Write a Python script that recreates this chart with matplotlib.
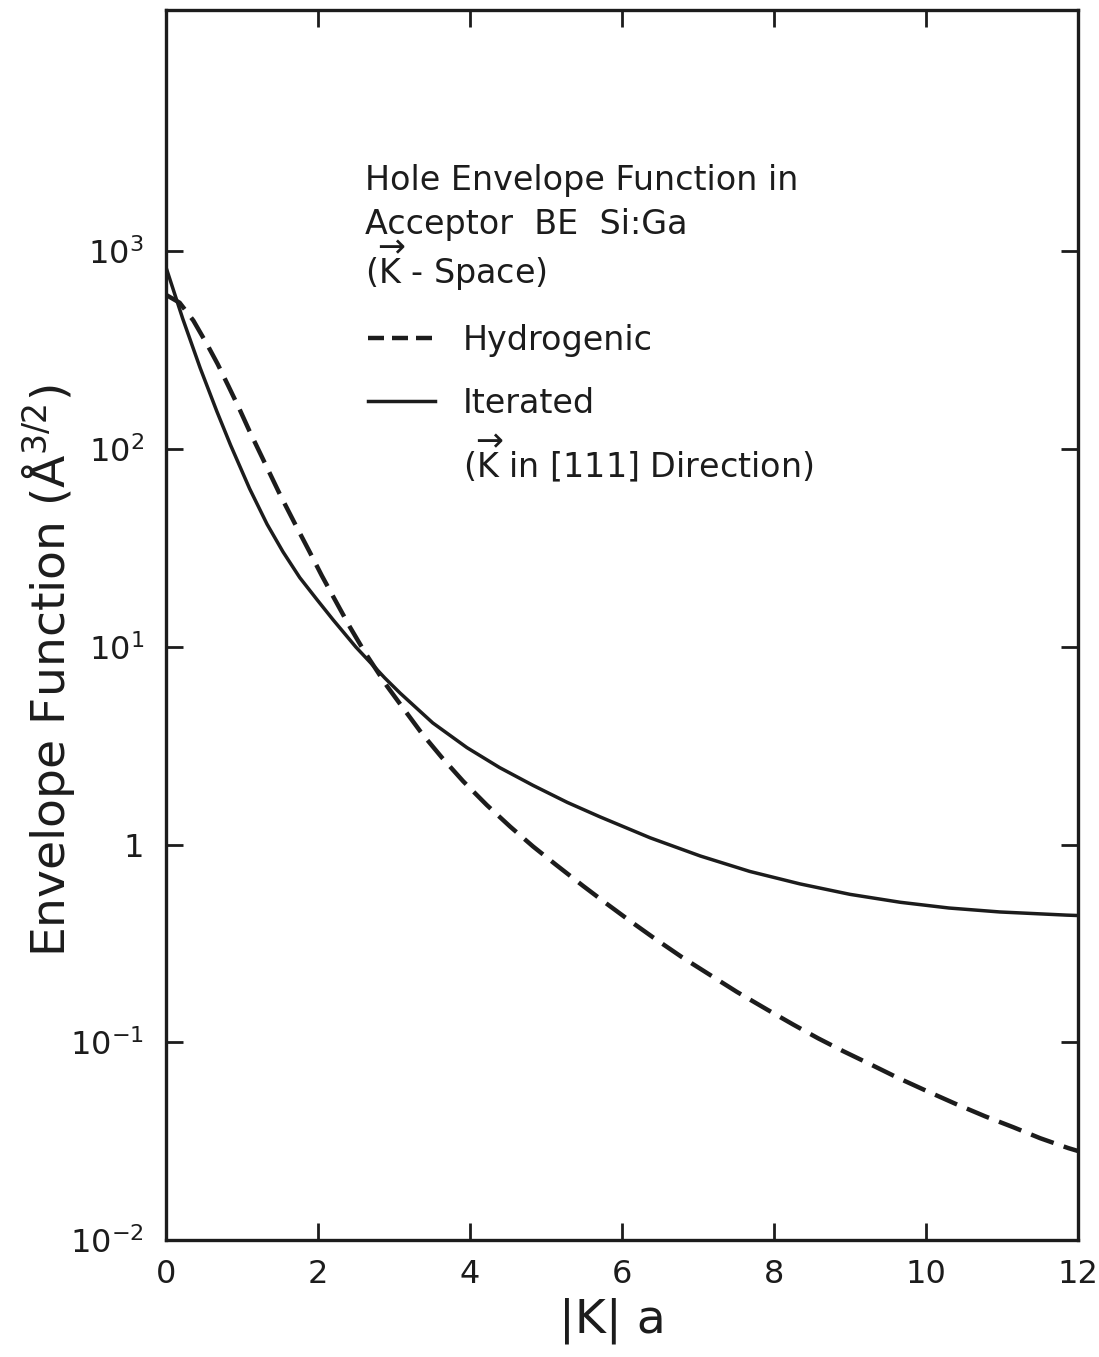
import numpy as np
import matplotlib
matplotlib.use("Agg")
import matplotlib.pyplot as plt
from matplotlib.lines import Line2D

# ---- data (log10 of envelope function) ----
iter_x = [0.0, 0.22, 0.45, 0.67, 0.85, 1.1, 1.33, 1.54, 1.76, 1.99, 2.2, 2.5, 2.88,
          3.08, 3.51, 3.96, 4.39, 4.83, 5.28, 5.71, 6.37, 7.03, 7.68, 8.34, 9.0, 9.66,
          10.3, 10.97, 11.85, 12.0]
iter_logy = [2.92, 2.66, 2.41, 2.19, 2.02, 1.80, 1.62, 1.48, 1.35, 1.237, 1.136, 0.998, 0.842,
             0.766, 0.615, 0.49, 0.389, 0.299, 0.213, 0.14, 0.034, -0.058, -0.136, -0.199, -0.252,
             -0.292, -0.321, -0.341, -0.357, -0.359]

hyd_x = [0.0, 0.18, 0.36, 0.54, 0.68, 0.82, 0.97, 1.1, 1.3, 1.5, 1.7, 1.89, 2.05, 2.22, 2.42,
         2.62, 2.91, 3.12, 3.37, 3.63, 3.91, 4.22, 4.53, 4.83, 5.14, 5.49, 5.8, 6.1, 6.41, 6.79,
         7.16, 7.51, 7.91, 8.25, 8.58, 8.91, 9.26, 9.63, 10.0, 10.38, 10.78, 11.15, 11.5, 11.87, 12.0]
hyd_logy = [2.78, 2.74, 2.65, 2.53, 2.43, 2.32, 2.20, 2.09, 1.93, 1.77, 1.62, 1.48, 1.36, 1.24, 1.10,
            0.97, 0.80, 0.69, 0.56, 0.44, 0.32, 0.20, 0.09, -0.01, -0.105, -0.21, -0.30, -0.385,
            -0.47, -0.57, -0.66, -0.745, -0.835, -0.91, -0.98, -1.045, -1.11, -1.18, -1.245,
            -1.31, -1.375, -1.43, -1.485, -1.535, -1.55]

iter_y = [10 ** v for v in iter_logy]
hyd_y = [10 ** v for v in hyd_logy]

xticks = [0, 2, 4, 6, 8, 10, 12]
xticklabels = ["0", "2", "4", "6", "8", "10", "12"]
yticks = [1e-2, 1e-1, 1, 1e1, 1e2, 1e3]
yticklabels = [r"$10^{-2}$", r"$10^{-1}$", "1", r"$10^{1}$", r"$10^{2}$", r"$10^{3}$"]

plt.rcParams['font.family'] = ['DejaVu Sans']
plt.rcParams['mathtext.fontset'] = 'dejavusans'

INK = '#1c1c1c'

fig = plt.figure(figsize=(10.99, 13.57), dpi=100)
ax = fig.add_axes([0.151, 0.0862, 0.830, 0.9064])

ax.plot(hyd_x, hyd_y, color=INK, lw=3.2, dashes=(5.4, 2.4), dash_capstyle='butt')
ax.plot(iter_x, iter_y, color=INK, lw=2.5)

ax.set_yscale('log')
ax.set_xlim(0, 12)
ax.set_ylim(1e-2, 10 ** 4.22)

ax.set_xticks(xticks)
ax.set_xticklabels(xticklabels)
ax.set_yticks(yticks)
ax.set_yticklabels(yticklabels)
ax.yaxis.set_minor_locator(matplotlib.ticker.NullLocator())
ax.tick_params(axis='both', which='major', direction='in', length=12, width=2,
               color=INK, labelsize=23, labelcolor=INK, top=True, right=True)
ax.tick_params(axis='x', pad=14)
ax.tick_params(axis='y', pad=16)
for s in ax.spines.values():
    s.set_linewidth(2.4)
    s.set_color(INK)

ax.set_xlabel("|K| a", fontsize=34, color=INK)
ax.xaxis.set_label_coords(0.489, -0.047)
ax.set_ylabel(r"Envelope Function ($\mathrm{\AA}^{3/2}$)", fontsize=34, color=INK)
ax.yaxis.set_label_coords(-0.097, 0.463)

fs = 24
ax.text(0.218, 0.854, "Hole Envelope Function in", transform=ax.transAxes,
        fontsize=fs, color=INK, va='baseline')
ax.text(0.218, 0.818, "Acceptor  BE  Si:Ga", transform=ax.transAxes,
        fontsize=fs, color=INK, va='baseline')
ax.text(0.218, 0.777, r"($\overrightarrow{\mathrm{K}}$ - Space)", transform=ax.transAxes,
        fontsize=fs, color=INK, va='baseline')

handles = [Line2D([], [], color=INK, lw=3.2, dashes=(3.6, 1.8), dash_capstyle='butt'),
           Line2D([], [], color=INK, lw=2.5)]
ax.legend(handles, ["Hydrogenic", "Iterated"], loc='upper left',
          bbox_to_anchor=(0.2215, 0.745), frameon=False, fontsize=fs,
          handlelength=2.0, handletextpad=0.85, labelspacing=0.9,
          borderpad=0, borderaxespad=0, labelcolor=INK)
ax.text(0.326, 0.620, r"($\overrightarrow{\mathrm{K}}$ in [111] Direction)", transform=ax.transAxes,
        fontsize=fs, color=INK, va='baseline')

fig.savefig("out.png", dpi=100, facecolor='white')
